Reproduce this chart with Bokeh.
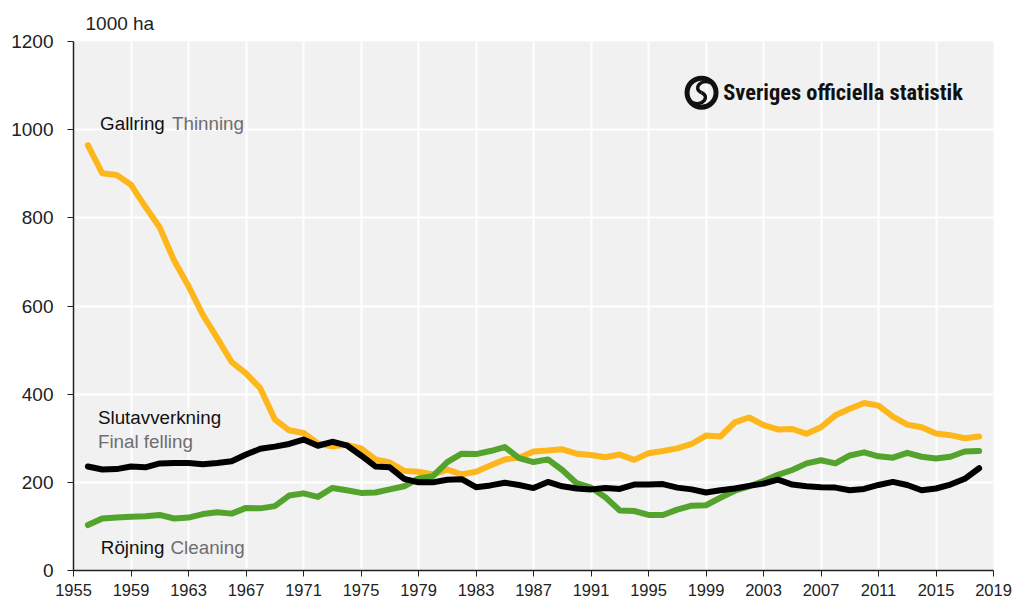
from bokeh.plotting import figure
from bokeh.embed import file_html
from bokeh.resources import INLINE
from bokeh.models import Label, FixedTicker, Range1d, Title

years = list(range(1956, 2019))
thinning = [965,901,897,875,825,778,703,645,580,527,473,447,413,343,318,312,288,282,285,277,252,245,226,224,218,229,218,224,238,252,256,270,272,275,265,262,257,263,251,266,271,277,287,306,304,336,347,330,320,321,310,325,352,367,380,374,349,331,325,311,307,300,304]
cleaning = [103,118,120,122,123,126,118,120,128,132,129,142,141,146,170,175,167,187,182,176,177,184,191,209,214,246,265,264,271,280,255,246,252,228,198,188,166,136,135,126,126,138,147,148,165,181,191,203,217,228,243,250,243,261,268,259,256,267,258,254,258,270,271]
final_felling = [236,229,230,236,234,243,244,244,241,244,248,263,276,281,287,297,283,292,284,261,236,234,208,200,200,206,207,189,193,199,194,187,201,191,186,184,187,185,195,195,196,188,184,177,182,186,192,197,206,195,191,189,188,182,185,194,201,194,182,186,195,208,232]
assert len(thinning) == len(cleaning) == len(final_felling) == len(years)
x_ticks = list(range(1955, 2020, 4))
y_ticks = [0, 200, 400, 600, 800, 1000, 1200]

FONT = "Liberation Sans"
p = figure(width=1015, height=597, frame_width=920, frame_height=529, output_backend="svg", toolbar_location=None,
           x_range=Range1d(1955, 2019), y_range=Range1d(0, 1200),
           min_border_left=73, min_border_right=22, min_border_top=41, min_border_bottom=27,
           title=None)
p.outline_line_color = None
p.background_fill_color = "#f1f1f1"
p.border_fill_color = "white"

p.add_layout(Title(text="1000 ha", text_font=FONT, text_font_size="19px", text_font_style="normal",
                   text_color="#222222", align="left", offset=12, standoff=15), "above")

for ax, ticks, size in ((p.xaxis[0], x_ticks, "16.5px"), (p.yaxis[0], y_ticks, "19px")):
    ax.ticker = FixedTicker(ticks=ticks)
    ax.major_label_text_font = FONT
    ax.major_label_text_font_size = size
    ax.major_label_text_color = "#222222"
    ax.minor_tick_line_color = None
    ax.major_tick_in = 0
    ax.major_tick_out = 6
    ax.major_tick_line_color = "#222222"
    ax.axis_line_color = "#222222"
    ax.major_tick_line_width = 1
p.xaxis[0].axis_line_width = 1.5
p.yaxis[0].axis_line_width = 1.5
p.xaxis[0].major_label_standoff = 7
p.yaxis[0].major_label_standoff = 14

p.grid.grid_line_color = "white"
p.grid.grid_line_width = 2
p.xgrid[0].ticker = FixedTicker(ticks=x_ticks)
p.ygrid[0].ticker = FixedTicker(ticks=y_ticks)

for series, color in ((thinning, "#fdb61c"), (cleaning, "#53a32c"), (final_felling, "#000000")):
    p.line(years, series, line_color=color, line_width=6, line_join="round", line_cap="round")

def add_text(x, y, text, color="#111111", size="18.8px", font=FONT, style="normal"):
    p.add_layout(Label(x=x, y=y, text=text, text_color=color, text_font_size=size, text_font=font,
                       text_font_style=style, text_baseline="middle", text_align="left"))

GREY = "#6e6e6e"
add_text(1956.85, 1013, "Gallring")
add_text(1961.85, 1013, "Thinning", GREY)
add_text(1956.7, 347, "Slutavverkning")
add_text(1956.7, 292, "Final felling", GREY)
add_text(1956.9, 52, "Röjning")
add_text(1961.75, 52, "Cleaning", GREY)
add_text(2000.2, 1086, "Sveriges officiella statistik", "#111111", "22.4px", "Roboto Condensed", "bold")

# logo: ring with an S (offsets in screen pixels around the logo centre)
LX, LY = 1998.69, 1084
def lx(d): return LX + d / 14.375
def ly(d): return LY - d / 0.441
p.circle([LX], [LY], radius=14.5, radius_units="screen", fill_color=None, line_color="#111111", line_width=5)
p.bezier(x0=[lx(9), lx(0)], y0=[ly(-10), ly(0)], x1=[lx(0), lx(-9)], y1=[ly(0), ly(10)],
         cx0=[lx(-1), lx(9)], cy0=[ly(-14), ly(4)], cx1=[lx(-9), lx(1)], cy1=[ly(-4), ly(14)],
         line_color="#111111", line_width=3.5)

open("out.html", "w").write(file_html(p, INLINE))
